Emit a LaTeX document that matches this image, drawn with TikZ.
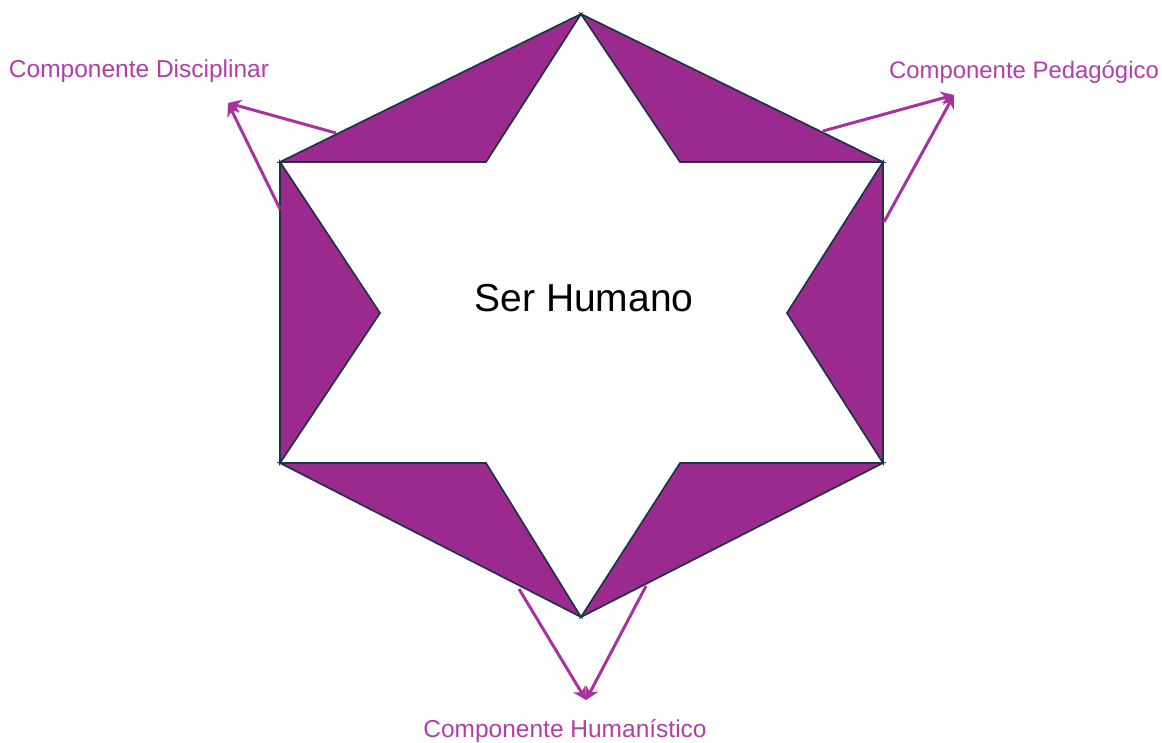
\documentclass[tikz,border=0pt]{standalone}
\usepackage{fontspec}
\setmainfont{Liberation Sans}
\usetikzlibrary{arrows.meta}
\definecolor{petal}{RGB}{155,42,143}
\definecolor{edgeline}{RGB}{30,52,70}
\definecolor{arrowc}{RGB}{168,50,160}
\definecolor{labelc}{RGB}{178,62,168}
\tikzset{
  piece/.style={fill=petal,draw=edgeline,line width=1.7pt,line join=miter},
  link/.style={draw=arrowc,line width=3pt,-{Stealth[length=13pt,width=14pt]}},
  lab/.style={text=labelc,font=\fontsize{24.5}{27}\selectfont,inner sep=0pt},
}
\begin{document}
\begin{tikzpicture}[x=1pt,y=-1pt]
\useasboundingbox (0,0) rectangle (1162,742);
% outer hexagon vertices
\coordinate (T) at (581,14);
\coordinate (TR) at (883,162);
\coordinate (BR) at (883,463);
\coordinate (B) at (581,617);
\coordinate (BL) at (280,463);
\coordinate (TL) at (280,162);
% inner star vertices
\coordinate (iTL) at (486,162);
\coordinate (iTR) at (680,162);
\coordinate (iR) at (787,313);
\coordinate (iBR) at (680,463);
\coordinate (iBL) at (486,463);
\coordinate (iL) at (380,313);
% purple pieces
\draw[piece] (TL) -- (T) -- (iTL) -- cycle;
\draw[piece] (T) -- (TR) -- (iTR) -- cycle;
\draw[piece] (TR) -- (BR) -- (iR) -- cycle;
\draw[piece] (BR) -- (B) -- (iBR) -- cycle;
\draw[piece] (B) -- (BL) -- (iBL) -- cycle;
\draw[piece] (BL) -- (TL) -- (iL) -- cycle;
% centre text
\node[font=\fontsize{39}{43}\selectfont,inner sep=0pt] (ser) at (584,298) {Ser Humano};
% labels
\node[lab] (disc) at (139,71) {Componente Disciplinar};
\node[lab,font=\fontsize{23.9}{27}\selectfont] (ped) at (1024,72) {Componente Pedagógico};
\node[lab] (hum) at (565,731) {Componente Humanístico};
% arrow tips and starts
\coordinate (tipD) at (228,103);
\coordinate (tipP) at (954,95);
\coordinate (tipH) at (586,700);
\coordinate (sD1) at (336,133);
\coordinate (sD2) at (280,209);
\coordinate (sP1) at (823,131);
\coordinate (sP2) at (884,222);
\coordinate (sH1) at (519,589);
\coordinate (sH2) at (646,586);
\draw[link] (sD1) -- (tipD);
\draw[link] (sD2) -- (tipD);
\draw[link] (sP1) -- (tipP);
\draw[link] (sP2) -- (tipP);
\draw[link] (sH1) -- (tipH);
\draw[link] (sH2) -- (tipH);
\end{tikzpicture}
\end{document}
